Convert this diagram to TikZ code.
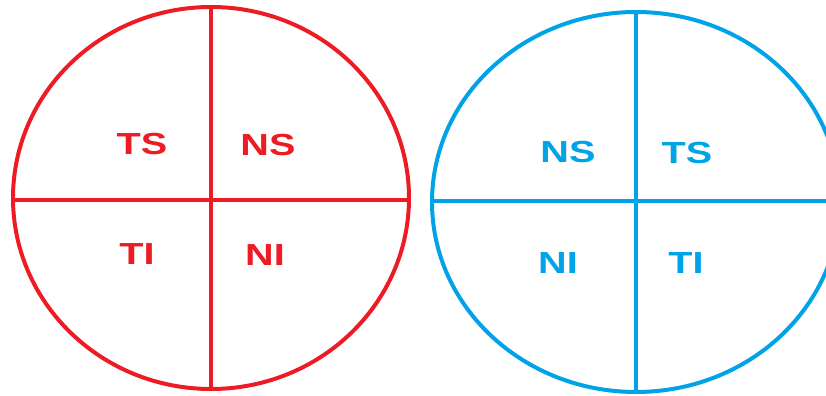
\documentclass[tikz,border=0pt]{standalone}
\usepackage{fontspec}
\setmainfont{Liberation Sans}
\usepackage{graphicx}
\usepackage{tikz}

\definecolor{paintred}{HTML}{ED1C24}
\definecolor{paintblue}{HTML}{00A2E8}

\newcommand{\wide}[1]{\scalebox{1.3}[1]{#1}}

\tikzset{
  quad/.style={line width=3.4pt},
  lbl/.style={font=\fontsize{26}{31}\selectfont\bfseries, inner sep=0pt},
}

\begin{document}
\begin{tikzpicture}[x=0.03cm, y=-0.03cm]
  \useasboundingbox (0,0) rectangle (826,396);
  \clip (0,0) rectangle (826,396);

  % left circle
  \coordinate (L) at (211,198);
  \draw[quad, paintred] (L) ellipse [x radius=198, y radius=191];
  \draw[quad, paintred] (211,7) -- (211,389);
  \draw[quad, paintred] (13,200) -- (409,200);

  \node[lbl, text=paintred] (lts) at (142,144) {\wide{TS}};
  \node[lbl, text=paintred] (lns) at (268,145) {\wide{NS}};
  \node[lbl, text=paintred] (lti) at (137,254) {\wide{TI}};
  \node[lbl, text=paintred] (lni) at (265,255) {\wide{NI}};

  % right circle
  \coordinate (R) at (636,202);
  \draw[quad, paintblue] (R) ellipse [x radius=204, y radius=190];
  \draw[quad, paintblue] (636,12) -- (636,392);
  \draw[quad, paintblue] (432,201) -- (840,201);

  \node[lbl, text=paintblue] (rns) at (568,152) {\wide{NS}};
  \node[lbl, text=paintblue] (rts) at (687,153) {\wide{TS}};
  \node[lbl, text=paintblue] (rni) at (558,263) {\wide{NI}};
  \node[lbl, text=paintblue] (rti) at (686,263) {\wide{TI}};
\end{tikzpicture}
\end{document}
